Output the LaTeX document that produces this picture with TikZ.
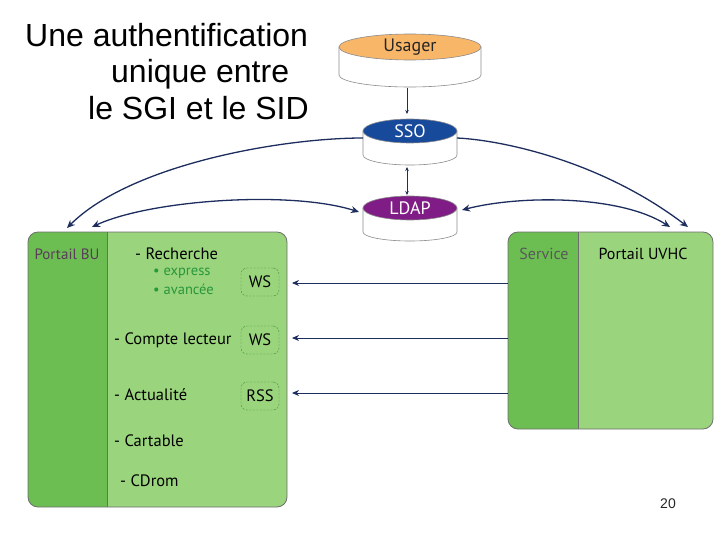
\documentclass[tikz,border=0pt]{standalone}
\usepackage{fontspec}
\setmainfont{PT Sans}
\newfontfamily\titlefont{Liberation Sans}
\usetikzlibrary{arrows.meta,shapes.geometric}
\definecolor{darkg}{RGB}{108,190,82}
\definecolor{lightg}{RGB}{154,213,125}
\definecolor{bordg}{RGB}{110,110,110}
\definecolor{navy}{RGB}{28,45,94}
\definecolor{usagerc}{RGB}{248,182,104}
\definecolor{ssoc}{RGB}{24,74,156}
\definecolor{ldapc}{RGB}{128,28,134}
\definecolor{dashg}{RGB}{60,140,60}
\definecolor{bulletg}{RGB}{40,150,60}
\definecolor{purpgray}{RGB}{90,60,90}
\newcommand{\cylbody}[5]{% cx, Y(top centre), rx, h, ry bottom
  \filldraw[draw=bordg!80, fill=white, line width=0.6pt]
    (#1-#3,-#2) -- (#1-#3,-#2-#4)
    arc[start angle=180, end angle=360, x radius=#3, y radius=#5]
    -- (#1+#3,-#2) -- cycle;}
\begin{document}
\begin{tikzpicture}[x=1pt,y=1pt,
  cyltop/.style={ellipse, draw=bordg!80, line width=0.6pt, inner sep=0pt, font=\fontsize{18}{18}\selectfont},
  conn/.style={draw=navy, line width=1.3pt, -{Stealth[length=8pt,width=7pt]}},
  conn2/.style={draw=navy, line width=1.3pt, {Stealth[length=8pt,width=7pt]}-{Stealth[length=8pt,width=7pt]}},
  thin/.style={draw=navy, line width=0.6pt, -{Stealth[length=4pt,width=3.5pt]}},
  thin2/.style={draw=navy, line width=0.6pt, {Stealth[length=4pt,width=3.5pt]}-{Stealth[length=4pt,width=3.5pt]}},
  item/.style={anchor=west, font=\fontsize{16.5}{16.5}\selectfont, text=black, inner sep=0pt},
  sub/.style={anchor=west, font=\fontsize{14.5}{14.5}\selectfont, text=bulletg, inner sep=0pt},
  tag/.style={draw=dashg, dashed, dash pattern=on 2pt off 1.5pt, fill=lightg, rounded corners=6pt, minimum width=38pt, minimum height=28pt, inner sep=0pt, font=\fontsize{16.5}{16.5}\selectfont},
  ttl/.style={anchor=base west, font=\titlefont\fontsize{32}{32}\selectfont, inner sep=0pt}
]
\useasboundingbox (0,0) rectangle (720,-540);

% title
\node[ttl] (t1) at (25,-47) {Une authentification};
\node[ttl] (t2) at (111,-83) {unique entre};
\node[ttl] (t3) at (88,-120) {le SGI et le SID};

% cylinders
\cylbody{410}{47}{71}{28}{12}
\node[cyltop, fill=usagerc, minimum width=142pt, minimum height=26pt, text=black!85] (usager) at (410,-47) {Usager};
\cylbody{410}{131}{47}{24}{10}
\node[cyltop, fill=ssoc, minimum width=94pt, minimum height=24pt, text=white] (sso) at (410,-131) {SSO};
\cylbody{410}{208}{47}{24}{9}
\node[cyltop, fill=ldapc, minimum width=94pt, minimum height=24pt, text=white] (ldap) at (410,-208) {LDAP};

\coordinate (usagerb) at (407,-88);
\coordinate (ssot) at (407,-114);
\coordinate (ssob) at (407,-167);
\coordinate (ldapt) at (407,-195);
\coordinate (ssoL) at (363,-138);
\coordinate (ssoR) at (457,-138);
\coordinate (ldapL) at (359,-212);
\coordinate (ldapR) at (462,-210);

% left panel
\fill[lightg, rounded corners=10pt] (28,-232) rectangle (287,-507);
\begin{scope}
  \clip[rounded corners=10pt] (28,-232) rectangle (287,-507);
  \fill[darkg] (28,-232) rectangle (107,-507);
\end{scope}
\draw[bordg, line width=0.8pt] (107,-232) -- (107,-507);
\draw[bordg, line width=0.8pt, rounded corners=10pt] (28,-232) rectangle (287,-507);
\node[font=\fontsize{15}{15}\selectfont, text=purpgray] (pbu) at (67,-254) {Portail BU};
\coordinate (buA) at (292,-283);
\coordinate (buB) at (292,-338);
\coordinate (buC) at (292,-393);
\coordinate (buTop1) at (67,-228);
\coordinate (buTop2) at (92,-227);

\node[item] (rech) at (135,-254) {- Recherche};
\node[sub] (expr) at (153,-273) {• express};
\node[sub] (avan) at (153,-289) {• avancée};
\node[item] (compte) at (114,-340) {- Compte lecteur};
\node[item] (actu) at (114,-395) {- Actualité};
\node[item] (cart) at (114,-441) {- Cartable};
\node[item] (cdrom) at (120,-481) {- CDrom};
\node[tag] (ws1) at (260,-282) {WS};
\node[tag] (ws2) at (260,-340) {WS};
\node[tag] (rss) at (260,-396) {RSS};

% right panel
\fill[lightg, rounded corners=10pt] (508,-232) rectangle (713,-429);
\begin{scope}
  \clip[rounded corners=10pt] (508,-232) rectangle (713,-429);
  \fill[darkg] (508,-232) rectangle (578,-429);
\end{scope}
\draw[bordg, line width=0.8pt] (578,-232) -- (578,-429);
\draw[bordg, line width=0.8pt, rounded corners=10pt] (508,-232) rectangle (713,-429);
\node[font=\fontsize{16}{16}\selectfont, text=black!65] (serv) at (544,-254) {Service};
\node[font=\fontsize{16}{16}\selectfont, text=black] (uvhc) at (643,-254) {Portail UVHC};
\coordinate (svA) at (508,-283);
\coordinate (svB) at (508,-338);
\coordinate (svC) at (508,-393);
\coordinate (uvTop1) at (688,-227);
\coordinate (uvTop2) at (670,-227);

% connectors
\draw[thin] (usagerb) -- (ssot);
\draw[thin2] (ssob) -- (ldapt);
\draw[conn] (ssoL) .. controls (280,-138) and (130,-165) .. (buTop1);
\draw[conn] (ssoR) .. controls (500,-140) and (600,-160) .. (uvTop1);
\draw[conn2] (buTop2) .. controls (150,-200) and (290,-190) .. (ldapL);
\draw[conn2] (ldapR) .. controls (520,-195) and (620,-195) .. (uvTop2);
\draw[draw=navy, line width=0.9pt, -{Stealth[length=7pt,width=6pt]}] (svA) -- (buA);
\draw[draw=navy, line width=0.9pt, -{Stealth[length=7pt,width=6pt]}] (svB) -- (buB);
\draw[draw=navy, line width=0.9pt, -{Stealth[length=7pt,width=6pt]}] (svC) -- (buC);

% page number
\node[font=\titlefont\fontsize{14}{14}\selectfont, text=black!85] (pg) at (668,-504) {20};
\end{tikzpicture}
\end{document}
